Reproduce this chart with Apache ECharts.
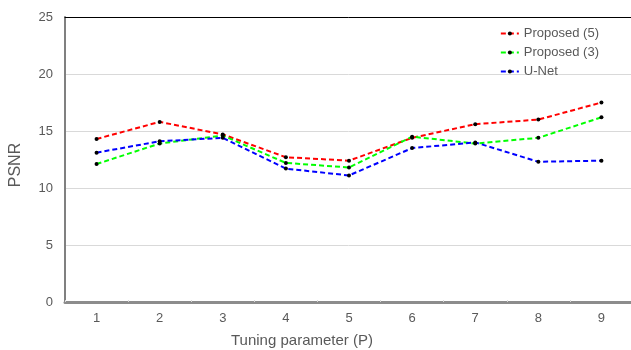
<!DOCTYPE html>
<html>
<head>
<meta charset="utf-8">
<script src="https://cdn.jsdelivr.net/npm/echarts@6/dist/echarts.min.js"></script>
<style>html,body{margin:0;padding:0;background:#fff}#c{width:631px;height:350px}</style>
</head>
<body>
<div id="c"></div>
<script>
var categories = ['1','2','3','4','5','6','7','8','9'];
var proposed5 = [14.3, 15.8, 14.7, 12.7, 12.4, 14.4, 15.6, 16.0, 17.5];
var proposed3 = [12.1, 13.9, 14.6, 12.2, 11.8, 14.5, 13.9, 14.4, 16.2];
var unet = [13.1, 14.1, 14.4, 11.7, 11.1, 13.5, 14.0, 12.3, 12.4];
var yTicks = [0, 5, 10, 15, 20, 25];

var font = 'Liberation Sans, Arial, sans-serif';
function mk(name, data, color) {
  return {
    name: name, type: 'line', data: data,
    symbol: 'circle', symbolSize: 4,
    itemStyle: { color: '#000' },
    lineStyle: { color: color, width: 2, type: [5, 3] },
    z: 3
  };
}
var chart = echarts.init(document.getElementById('c'));
chart.setOption({
  animation: false,
  textStyle: { fontFamily: font },
  grid: { left: 65, right: -2, top: 17, bottom: 48, containLabel: false, outerBoundsMode: 'none' },
  legend: {
    right: 27, top: 22, orient: 'vertical', itemGap: 6,
    itemWidth: 18, itemHeight: 5,
    textStyle: { fontSize: 13, color: '#595959', fontFamily: font },
    data: ['Proposed (5)', 'Proposed (3)', 'U-Net']
  },
  xAxis: [{
    type: 'category', data: categories, boundaryGap: true,
    axisLine: { lineStyle: { color: '#8c8c8c', width: 3 } },
    axisTick: { show: true, inside: true, length: 2, lineStyle: { color: '#d9d9d9', width: 1 } },
    axisLabel: { fontSize: 13, color: '#595959', margin: 10 },
    name: 'Tuning parameter (P)', nameLocation: 'middle', nameGap: 31,
    nameTextStyle: { fontSize: 15, color: '#595959', padding: [0, 94, 0, 0] }
  }, {
    type: 'category', data: categories, position: 'top',
    axisLine: { show: true, lineStyle: { color: '#000', width: 1 } },
    axisTick: { show: false }, axisLabel: { show: false }
  }],
  yAxis: {
    type: 'value', min: yTicks[0], max: yTicks[yTicks.length - 1], interval: 5,
    axisLine: { show: true, lineStyle: { color: '#808080', width: 2 } },
    axisTick: { show: false },
    splitLine: { lineStyle: { color: '#d9d9d9', width: 1 } },
    axisLabel: { fontSize: 13, color: '#595959', margin: 12 },
    name: 'PSNR', nameLocation: 'middle', nameGap: 41,
    nameTextStyle: { fontSize: 16, color: '#595959', padding: [0, 11, 0, 0] }
  },
  series: [
    mk('Proposed (5)', proposed5, '#ff0000'),
    mk('Proposed (3)', proposed3, '#00ff00'),
    mk('U-Net', unet, '#0000ff')
  ]
});
</script>
</body>
</html>
